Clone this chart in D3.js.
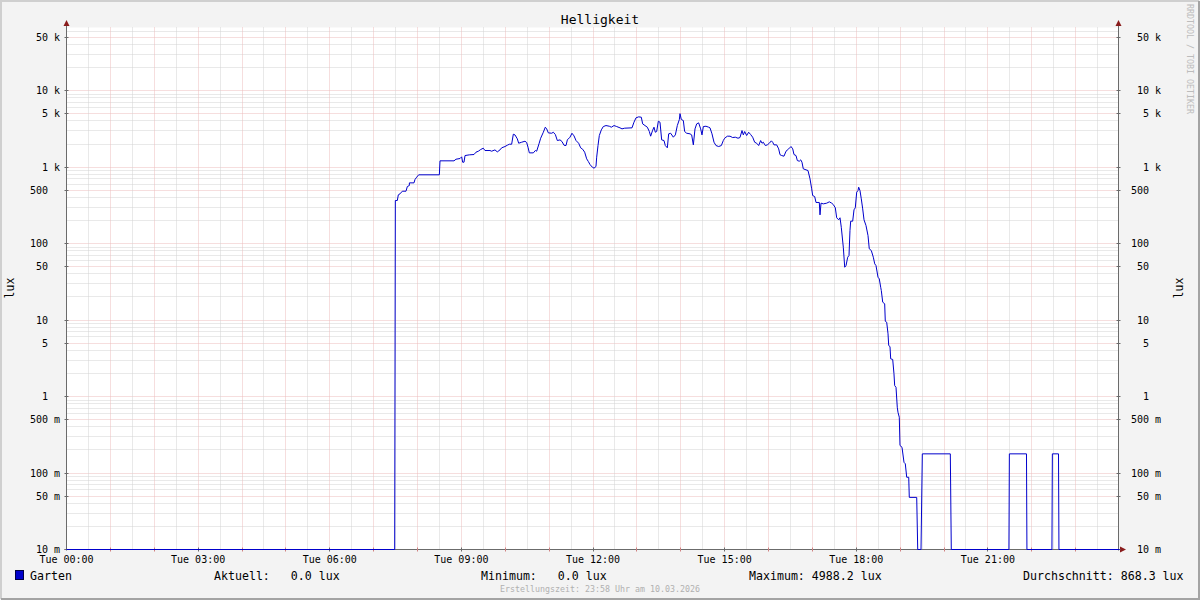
<!DOCTYPE html>
<html>
<head>
<meta charset="utf-8">
<script src="https://cdn.jsdelivr.net/npm/d3@7"></script>
<style>
  html, body { margin: 0; padding: 0; background: #f3f3f3; }
  svg { display: block; }
  text { font-family: "DejaVu Sans Mono", monospace; }
</style>
</head>
<body>
<script>
// Helligkeit, Garten - one day, log scale (rrdtool style)
var title = "Helligkeit";
var yLabel = "lux";
var footer = "Erstellungszeit: 23:58 Uhr am 10.03.2026";
var watermark = "RRDTOOL / TOBI OETIKER";

var yTickValues = [0.01, 0.05, 0.1, 0.5, 1, 5, 10, 50, 100, 500, 1000, 5000, 10000, 50000];
var yTickNums = ["10", "50", "100", "500", "1", "5", "10", "50", "100", "500", "1", "5", "10", "50"];
var yTickUnits = ["m", "m", "m", "m", "", "", "", "", "", "", "k", "k", "k", "k"];

var xTickHours = [0, 3, 6, 9, 12, 15, 18, 21];
var xTickLabels = ["Tue 00:00", "Tue 03:00", "Tue 06:00", "Tue 09:00", "Tue 12:00", "Tue 15:00", "Tue 18:00", "Tue 21:00"];

var legendName = "Garten";
var legendLabels = ["Aktuell:   0.0 lux", "Minimum:   0.0 lux", "Maximum: 4988.2 lux", "Durchschnitt: 868.3 lux"];

// [hour of day, lux]
var garten = [
  [0, 0], [7.48, 0], [7.495, 365], [7.54, 365], [7.563, 433], [7.601, 446], [7.654, 483], [7.738, 483],
  [7.768, 556], [7.814, 573], [7.815, 621], [7.92, 621], [7.943, 687], [7.981, 736], [8.027, 791], [8.498, 791],
  [8.513, 1205], [8.832, 1205], [8.877, 1265], [8.969, 1292], [9.007, 1359], [9.029, 1156], [9.06, 1156],
  [9.083, 1413], [9.181, 1443], [9.288, 1457], [9.333, 1563], [9.387, 1610], [9.44, 1694], [9.5, 1762],
  [9.538, 1644], [9.652, 1644], [9.69, 1610], [9.766, 1675], [9.819, 1578], [9.88, 1675], [9.918, 1783],
  [9.994, 1854], [10.047, 1928], [10.093, 1987], [10.146, 1987], [10.184, 2685], [10.222, 2630], [10.275, 2335],
  [10.306, 2048], [10.374, 2110], [10.45, 2175], [10.488, 2090], [10.519, 1815], [10.549, 1532], [10.64, 1532],
  [10.686, 1644], [10.716, 1610], [10.769, 2010], [10.807, 2380], [10.868, 2850], [10.913, 3318], [10.944, 3155],
  [10.982, 2795], [11.058, 2765], [11.096, 2850], [11.142, 2660], [11.187, 2220], [11.248, 2265], [11.293, 2155],
  [11.339, 1928], [11.385, 1910], [11.415, 2265], [11.476, 2455], [11.521, 2765], [11.567, 2555], [11.613, 2220],
  [11.673, 2048], [11.719, 1783], [11.764, 1710], [11.81, 1563], [11.856, 1280], [11.894, 1180], [11.932, 1078],
  [11.985, 995], [12.023, 966], [12.068, 1015], [12.084, 1345], [12.114, 1910], [12.144, 2583], [12.19, 3063],
  [12.235, 3384], [12.296, 3486], [12.372, 3415], [12.418, 3318], [12.479, 3486], [12.54, 3384], [12.615, 3254],
  [12.661, 3155], [12.722, 3220], [12.889, 3254], [12.934, 3855], [12.98, 4395], [13.041, 4530], [13.101, 4480],
  [13.132, 3665], [13.185, 3486], [13.238, 3318], [13.284, 2912], [13.314, 2530], [13.36, 3030], [13.39, 3318],
  [13.42, 2850], [13.451, 2912], [13.489, 3972], [13.527, 3855], [13.565, 2265], [13.618, 2220], [13.648, 1910],
  [13.694, 1783], [13.725, 2716], [13.77, 2765], [13.831, 2455], [13.877, 2630], [13.922, 3486], [13.968, 4180],
  [13.983, 4988.2], [14.013, 4180], [14.059, 4055], [14.089, 2912], [14.135, 2765], [14.211, 2716], [14.249, 2630],
  [14.287, 1950], [14.325, 3155], [14.363, 3665], [14.408, 3780], [14.454, 3155], [14.484, 2630], [14.515, 3384],
  [14.575, 3415], [14.636, 3318], [14.667, 3254], [14.712, 2716], [14.758, 2110], [14.803, 1910], [14.864, 1854],
  [14.925, 1910], [14.97, 2220], [15.001, 2380], [15.062, 2530], [15.123, 2530], [15.183, 2430], [15.244, 2455],
  [15.305, 2380], [15.35, 2430], [15.396, 3000], [15.426, 2630], [15.457, 2912], [15.502, 2583], [15.548, 2850],
  [15.593, 2660], [15.639, 2455], [15.685, 2110], [15.73, 2048], [15.776, 1910], [15.821, 2220], [15.852, 2048],
  [15.882, 2110], [15.928, 1910], [15.973, 1950], [16.019, 2048], [16.065, 2200], [16.095, 2110], [16.125, 1950],
  [16.186, 1950], [16.232, 1727], [16.262, 1450], [16.301, 1413], [16.353, 1386], [16.399, 1610], [16.46, 1727],
  [16.513, 1854], [16.552, 1727], [16.581, 1457], [16.627, 1413], [16.657, 1216], [16.702, 1191], [16.734, 1242],
  [16.763, 1156], [16.793, 947], [16.855, 919], [16.9, 900], [16.946, 701], [16.984, 519], [17.007, 424],
  [17.053, 411], [17.083, 344], [17.158, 344], [17.174, 237], [17.197, 337], [17.249, 330], [17.327, 337],
  [17.386, 351], [17.44, 337], [17.477, 323], [17.523, 293], [17.554, 217], [17.6, 204], [17.63, 217],
  [17.659, 163], [17.705, 89.5], [17.737, 49], [17.767, 51.5], [17.805, 66.2], [17.835, 69.7], [17.857, 148],
  [17.873, 196], [17.919, 196], [17.949, 276], [17.978, 293], [18.01, 469], [18.04, 493], [18.055, 545],
  [18.085, 493], [18.115, 384], [18.147, 284], [18.177, 204], [18.222, 172], [18.268, 127], [18.297, 85.3],
  [18.343, 81], [18.389, 66.2], [18.421, 54.3], [18.45, 51.5], [18.496, 36.3], [18.525, 34.5], [18.557, 26.8],
  [18.571, 24.3], [18.603, 17.1], [18.648, 16.3], [18.662, 9.64], [18.694, 9.36], [18.724, 6.6], [18.74, 4.64],
  [18.769, 4.5], [18.785, 3.11], [18.831, 3.05], [18.86, 1.98], [18.876, 1.39], [18.906, 1.32], [18.935, 0.724],
  [18.951, 0.623], [18.981, 0.536], [18.997, 0.229], [19.043, 0.217], [19.088, 0.138], [19.118, 0.132],
  [19.15, 0.088], [19.196, 0.088], [19.209, 0.048], [19.378, 0.048], [19.401, 0], [19.476, 0], [19.506, 0.178],
  [20.144, 0.178], [20.166, 0], [21.48, 0], [21.49, 0.178], [21.88, 0.178], [21.89, 0], [22.46, 0],
  [22.47, 0.178], [22.61, 0.178], [22.62, 0], [24, 0]
];

var W = 1200, H = 600;
var pLeft = 66.5, pRight = 1118.5, pTop = 27.5, pBottom = 549.5;
var yMin = 0.01, yMax = 66700;

var x = d3.scaleLinear().domain([0, 24]).range([pLeft, 1119.5]);
var y = d3.scaleLog().domain([yMin, yMax]).range([pBottom, pTop]).clamp(true);

var svg = d3.select("body").append("svg").attr("width", W).attr("height", H);

// frame
svg.append("rect").attr("width", W).attr("height", H).attr("fill", "#f3f3f3");
svg.append("path").attr("d", "M1,599 V1 H1199").attr("fill", "none").attr("stroke", "#cfcfcf").attr("stroke-width", 2);
svg.append("path").attr("d", "M1199,1 V599 H1").attr("fill", "none").attr("stroke", "#a3a3a3").attr("stroke-width", 2);

// plot background
svg.append("rect").attr("x", pLeft).attr("y", pTop).attr("width", pRight - pLeft).attr("height", pBottom - pTop).attr("fill", "#ffffff");

var crisp = function (v) { return Math.round(v - 0.5) + 0.5; };
var minorCol = "#d2d2d2", majorCol = "#ecbcbc";

// horizontal grid: minor 2..9, major 1 and 5
var hLines = [];
for (var k = -2; k <= 4; k++) {
  for (var m = 1; m <= 9; m++) {
    var v = m * Math.pow(10, k);
    if (v > yMin && v < yMax) hLines.push({ v: v, major: m === 1 || m === 5 });
  }
}
svg.append("g").selectAll("line").data(hLines).enter().append("line")
  .attr("x1", pLeft).attr("x2", pRight)
  .attr("y1", function (d) { return crisp(y(d.v)); })
  .attr("y2", function (d) { return crisp(y(d.v)); })
  .attr("stroke", function (d) { return d.major ? majorCol : minorCol; })
  .attr("stroke-dasharray", "1,1");

// vertical grid: every 30 min, hours are major
var vLines = d3.range(1, 48).map(function (i) { return { h: i / 2, major: i % 2 === 0 }; });
svg.append("g").selectAll("line").data(vLines).enter().append("line")
  .attr("y1", pTop).attr("y2", pBottom)
  .attr("x1", function (d) { return crisp(x(d.h)); })
  .attr("x2", function (d) { return crisp(x(d.h)); })
  .attr("stroke", function (d) { return d.major ? majorCol : minorCol; })
  .attr("stroke-dasharray", "1,1");

// axes lines
var axisCol = "#6b6b6b", arrowCol = "#8a1c1c";
svg.append("line").attr("x1", pLeft).attr("x2", pLeft).attr("y1", 23).attr("y2", pBottom + 1).attr("stroke", axisCol);
svg.append("line").attr("x1", pRight).attr("x2", pRight).attr("y1", 23).attr("y2", pBottom + 1).attr("stroke", axisCol);
svg.append("line").attr("x1", pLeft - 2).attr("x2", 1121).attr("y1", pBottom).attr("y2", pBottom).attr("stroke", axisCol);
svg.append("path").attr("d", "M" + (pLeft - 3) + ",26 L" + pLeft + ",20 L" + (pLeft + 3) + ",26 Z").attr("fill", arrowCol);
svg.append("path").attr("d", "M" + (pRight - 3) + ",26 L" + pRight + ",20 L" + (pRight + 3) + ",26 Z").attr("fill", arrowCol);
svg.append("path").attr("d", "M1120," + (pBottom - 3) + " L1126," + pBottom + " L1120," + (pBottom + 3) + " Z").attr("fill", arrowCol);

// tick marks
var majorY = hLines.filter(function (d) { return d.major; }).map(function (d) { return d.v; }).concat([yMin]);
svg.append("g").selectAll("path").data(majorY).enter().append("path")
  .attr("d", function (d) {
    var yy = crisp(y(d));
    return "M" + (pLeft - 2) + "," + yy + "H" + (pLeft + 2) + "M" + (pRight - 2) + "," + yy + "H" + (pRight + 2);
  })
  .attr("stroke", axisCol);
svg.append("g").selectAll("path").data(d3.range(1, 24)).enter().append("path")
  .attr("d", function (d) { var xx = crisp(x(d)); return "M" + xx + "," + (pBottom - 2) + "V" + (pBottom + 2); })
  .attr("stroke", function (d) { return d % 3 === 0 ? axisCol : "#d08080"; });

// y tick labels (left and right)
var cw = 6.02;
[30, 1131].forEach(function (x0) {
  var g = svg.append("g").attr("font-size", "10px").attr("fill", "#000");
  g.selectAll("text.num").data(yTickValues).enter().append("text")
    .attr("class", "num")
    .attr("x", x0 + 3 * cw).attr("y", function (d) { return y(d); }).attr("dy", "0.36em")
    .attr("text-anchor", "end")
    .text(function (d, i) { return yTickNums[i]; });
  g.selectAll("text.unit").data(yTickValues).enter().append("text")
    .attr("class", "unit")
    .attr("x", x0 + 4 * cw).attr("y", function (d) { return y(d); }).attr("dy", "0.36em")
    .text(function (d, i) { return yTickUnits[i]; });
});

// x tick labels
svg.append("g").selectAll("text").data(xTickHours).enter().append("text")
  .attr("x", function (d) { return x(d); }).attr("y", 562.5)
  .attr("text-anchor", "middle").attr("font-size", "10px")
  .text(function (d, i) { return xTickLabels[i]; });

// title
svg.append("text").attr("x", 600).attr("y", 23.5).attr("text-anchor", "middle")
  .attr("font-size", "13px").text(title);

// y axis titles
svg.append("text").attr("transform", "translate(14,288) rotate(-90)")
  .attr("text-anchor", "middle").attr("font-size", "11.5px").text(yLabel);
svg.append("text").attr("transform", "translate(1183,288) rotate(-90)")
  .attr("text-anchor", "middle").attr("font-size", "11.5px").text(yLabel);

// watermark
svg.append("text").attr("transform", "translate(1187,4) rotate(90)")
  .attr("font-size", "8.3px").attr("fill", "#bcbcbc").text(watermark);

// data line
var line = d3.line()
  .x(function (d) { return x(d[0]); })
  .y(function (d) { return y(Math.max(d[1], yMin)); });
svg.append("path").datum(garten)
  .attr("d", line)
  .attr("fill", "none")
  .attr("stroke", "#0000cc")
  .attr("stroke-width", 1);

// legend
svg.append("rect").attr("x", 15.5).attr("y", 570.5).attr("width", 8).attr("height", 9)
  .attr("fill", "#0000cc").attr("stroke", "#000044");
var lg = svg.append("g").attr("font-size", "11.6px").attr("fill", "#000");
lg.append("text").attr("x", 30).attr("y", 579.5).text(legendName);
var legendX = [214, 481, 749, 1023];
lg.selectAll("text.val").data(legendLabels).enter().append("text")
  .attr("class", "val")
  .attr("x", function (d, i) { return legendX[i]; }).attr("y", 579.5)
  .attr("xml:space", "preserve").style("white-space", "pre")
  .text(function (d) { return d; });

// footer
svg.append("text").attr("x", 600).attr("y", 592).attr("text-anchor", "middle")
  .attr("font-size", "8.3px").attr("fill", "#b0b0b0").text(footer);
</script>
</body>
</html>
